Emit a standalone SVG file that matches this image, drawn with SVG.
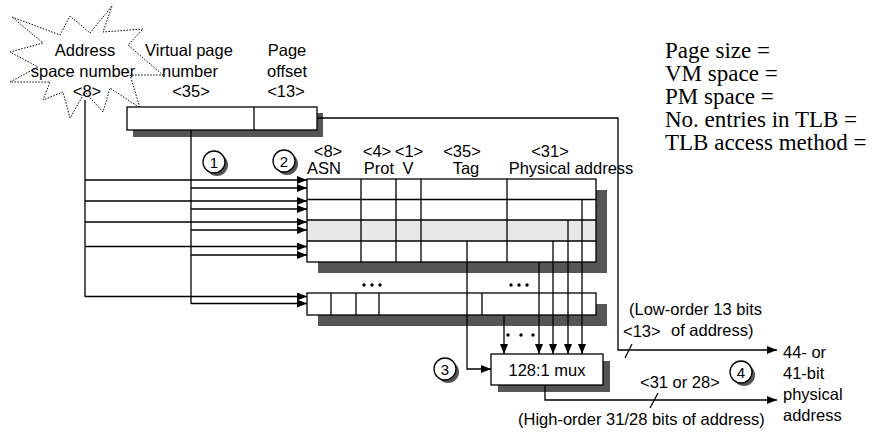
<svg xmlns="http://www.w3.org/2000/svg" width="881" height="434" viewBox="0 0 881 434">
<style>
.l{font-family:"Liberation Sans",Arial,sans-serif;font-size:16.5px;fill:#000}
.c{text-anchor:middle}
.t{font-family:"Liberation Serif","Times New Roman",serif;font-size:23px;fill:#000}
.ln{stroke:#000;stroke-width:1.3;fill:none}
.box{fill:#fff;stroke:#000;stroke-width:1.3}
.sh{fill:#555}
.dot{fill:#000}
.star{fill:#fff;stroke:#000;stroke-width:1;stroke-dasharray:1.5 1.5}
.num{font-family:"Liberation Sans",Arial,sans-serif;font-size:15px;text-anchor:middle}
</style>
<defs>
<marker id="a" markerWidth="10" markerHeight="8" refX="10" refY="4" orient="auto" markerUnits="userSpaceOnUse"><path d="M0,0 L10,4 L0,8 z" fill="#000"/></marker>
</defs>

<g id="asn-label">
<polygon class="star" points="112,6 103,32 143,29 128,45 163,75 130,75 140,108 110,88 103,112 85,92 70,118 63,92 43,100 50,82 10,82 38,67 10,52 43,43 12,17 60,35 70,16 90,33"/>
<text class="l c" x="85" y="56">Address</text>
<text class="l c" x="83" y="77">space number</text>
<text class="l c" x="87" y="97">&lt;8&gt;</text>
</g>

<g id="vpn-label">
<text class="l c" x="189" y="56">Virtual page</text>
<text class="l c" x="190" y="77">number</text>
<text class="l c" x="191" y="97">&lt;35&gt;</text>
</g>

<g id="offset-label">
<text class="l c" x="287" y="56">Page</text>
<text class="l c" x="287" y="77">offset</text>
<text class="l c" x="286" y="97">&lt;13&gt;</text>
</g>

<g id="va-register">
<rect class="sh" x="133" y="113" width="190" height="24"/>
<rect class="box" x="127" y="107" width="190" height="23"/>
<line class="ln" x1="254" y1="107" x2="254" y2="130"/>
</g>

<g id="tlb-headers">
<text class="l c" x="328" y="157">&lt;8&gt;</text>
<text class="l c" x="324" y="174">ASN</text>
<text class="l c" x="377" y="157">&lt;4&gt;</text>
<text class="l c" x="379" y="174">Prot</text>
<text class="l c" x="409" y="157">&lt;1&gt;</text>
<text class="l c" x="408" y="174">V</text>
<text class="l c" x="462" y="157">&lt;35&gt;</text>
<text class="l c" x="466" y="174">Tag</text>
<text class="l c" x="550" y="157">&lt;31&gt;</text>
<text class="l c" x="571" y="174">Physical address</text>
</g>

<g id="tlb">
<rect class="sh" x="318" y="190" width="289" height="83"/>
<rect x="307" y="179" width="289" height="83" fill="#fff"/>
<rect x="307" y="220" width="289" height="21" fill="#e8e8e8"/>
<rect class="ln" x="307" y="179" width="289" height="83"/>
<path class="ln" d="M307,199.5 H596 M307,220 H596 M307,241 H596 M361,179 V262 M396,179 V262 M421,179 V262 M507,179 V262"/>
</g>

<g id="tlb-last-entry">
<rect class="sh" x="318" y="304" width="289" height="22"/>
<rect class="box" x="307" y="293" width="289" height="22"/>
<path class="ln" d="M331,293 V315 M356,293 V315 M379,293 V315 M482,293 V315"/>
<circle class="dot" cx="364" cy="285" r="1.7"/><circle class="dot" cx="372" cy="285" r="1.7"/><circle class="dot" cx="380" cy="285" r="1.7"/>
<circle class="dot" cx="511" cy="285" r="1.7"/><circle class="dot" cx="519" cy="285" r="1.7"/><circle class="dot" cx="527" cy="285" r="1.7"/>
</g>

<g id="mux">
<rect class="sh" x="498" y="361" width="112" height="31"/>
<rect class="box" x="491" y="354" width="112" height="31"/>
<text class="l c" x="547" y="376">128:1 mux</text>
<circle class="dot" cx="508" cy="335" r="1.7"/><circle class="dot" cx="521" cy="335" r="1.7"/><circle class="dot" cx="533" cy="335" r="1.7"/>
</g>

<g id="step1"><circle class="sh" cx="217" cy="165" r="11"/><circle class="box" cx="214" cy="162" r="11"/><text class="num" x="214" y="167.5">1</text></g>
<g id="step2"><circle class="sh" cx="287" cy="164" r="11"/><circle class="box" cx="284" cy="161" r="11"/><text class="num" x="284" y="166.5">2</text></g>
<g id="step3"><circle class="sh" cx="448" cy="372" r="11"/><circle class="box" cx="445" cy="369" r="11"/><text class="num" x="445" y="374.5">3</text></g>
<g id="step4"><circle class="sh" cx="744" cy="375" r="11"/><circle class="box" cx="741" cy="372" r="11"/><text class="num" x="741" y="377.5">4</text></g>

<g id="connectors">
<path class="ln" d="M85,100 V297"/>
<path class="ln" d="M191,130 V304"/>
<path class="ln" d="M85,180 H307" marker-end="url(#a)"/>
<path class="ln" d="M191,188 H307" marker-end="url(#a)"/>
<path class="ln" d="M85,201 H307" marker-end="url(#a)"/>
<path class="ln" d="M191,209 H307" marker-end="url(#a)"/>
<path class="ln" d="M85,222 H307" marker-end="url(#a)"/>
<path class="ln" d="M191,230 H307" marker-end="url(#a)"/>
<path class="ln" d="M85,246.5 H307" marker-end="url(#a)"/>
<path class="ln" d="M191,255 H307" marker-end="url(#a)"/>
<path class="ln" d="M85,296.5 H307" marker-end="url(#a)"/>
<path class="ln" d="M191,303.5 H307" marker-end="url(#a)"/>
<path class="ln" d="M582,199.5 V354" marker-end="url(#a)"/>
<path class="ln" d="M568,220 V354" marker-end="url(#a)"/>
<path class="ln" d="M553,241 V354" marker-end="url(#a)"/>
<path class="ln" d="M539,262 V354" marker-end="url(#a)"/>
<path class="ln" d="M504,315 V354" marker-end="url(#a)"/>
<path class="ln" d="M467,241 V369 H491" marker-end="url(#a)"/>
<path class="ln" d="M317,118 H618 V350 H777" marker-end="url(#a)"/>
<path class="ln" d="M545,385 V400 H777" marker-end="url(#a)"/>
<path class="ln" d="M632,344 L625,358"/>
<path class="ln" d="M658,393 L650,408"/>
</g>

<g id="bit-labels">
<text class="l" x="629" y="315">(Low-order 13 bits</text>
<text class="l" x="671" y="336">of address)</text>
<text class="l" x="623" y="337">&lt;13&gt;</text>
<text class="l" x="640" y="388">&lt;31 or 28&gt;</text>
<text class="l" x="518" y="425">(High-order 31/28 bits of address)</text>
<text class="l" x="783" y="358">44- or</text>
<text class="l" x="783" y="379">41-bit</text>
<text class="l" x="783" y="400">physical</text>
<text class="l" x="783" y="421">address</text>
</g>

<g id="notes">
<text class="t" x="665" y="58">Page size =</text>
<text class="t" x="665" y="81">VM space =</text>
<text class="t" x="665" y="104">PM space =</text>
<text class="t" x="665" y="127">No. entries in TLB =</text>
<text class="t" x="665" y="150">TLB access method =</text>
</g>
</svg>
